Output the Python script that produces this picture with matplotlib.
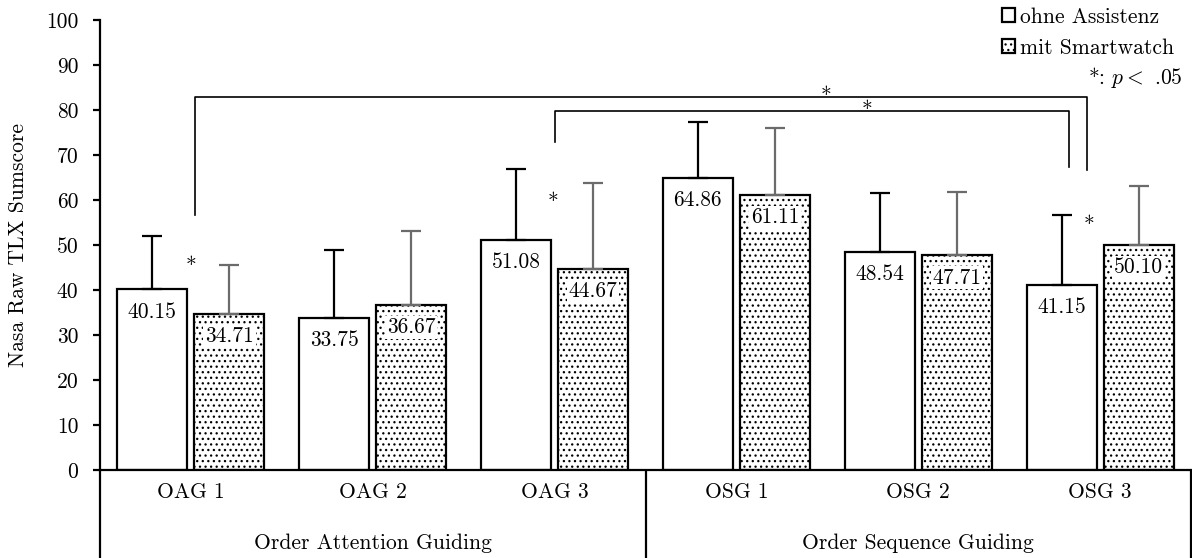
import matplotlib
matplotlib.use("Agg")
import matplotlib.pyplot as plt
from matplotlib.patches import Patch
import matplotlib.transforms as mtransforms

plt.rcParams["font.family"] = ["cmr10", "DejaVu Serif"]
plt.rcParams["mathtext.fontset"] = "cm"
plt.rcParams["axes.unicode_minus"] = False
plt.rcParams["hatch.linewidth"] = 0.9

categories = ["OAG 1", "OAG 2", "OAG 3", "OSG 1", "OSG 2", "OSG 3"]
groups = ["Order Attention Guiding", "Order Sequence Guiding"]
ohne = [40.15, 33.75, 51.08, 64.86, 48.54, 41.15]
ohne_sd = [11.85, 15.25, 15.85, 12.45, 13.05, 15.6]
mit = [34.71, 36.67, 44.67, 61.11, 47.71, 50.10]
mit_sd = [10.8, 16.55, 19.05, 14.9, 14.15, 13.1]
legend_labels = ["ohne Assistenz", "mit Smartwatch"]
y_ticks = list(range(0, 101, 10))

FS = 15.5

fig = plt.figure(figsize=(11.92, 5.58), dpi=100)
ax = fig.add_axes([100 / 1192, 88 / 558, 1091 / 1192, 450 / 558])

x = list(range(len(categories)))
w = 0.385
off = 0.212
xw = [i - off for i in x]
xm = [i + off for i in x]

ax.bar(xw, ohne, width=w, color="white", edgecolor="black", linewidth=1.6, zorder=2)
ax.bar(xm, mit, width=w, color="white", edgecolor="black", linewidth=1.6,
       hatch="...", zorder=2)
ax.errorbar(xw, ohne, yerr=[[0] * 6, ohne_sd], fmt="none", ecolor="black",
            elinewidth=1.6, capsize=7, capthick=1.6, zorder=3)
ax.errorbar(xm, mit, yerr=[[0] * 6, mit_sd], fmt="none", ecolor="#6b6b6b",
            elinewidth=1.6, capsize=7, capthick=1.6, zorder=3)

for xi, v in zip(xw, ohne):
    ax.text(xi, v - 5, f"{v:.2f}", ha="center", va="center", fontsize=FS, zorder=4)
for xi, v in zip(xm, mit):
    ax.text(xi, v - 5, f"{v:.2f}", ha="center", va="center", fontsize=FS, zorder=4,
            bbox=dict(boxstyle="square,pad=0.08", fc="white", ec="none"))

ax.set_xlim(-0.5, 5.5)
ax.set_ylim(0, 100)
ax.set_yticks(y_ticks)
ax.tick_params(axis="y", labelsize=FS, width=1.6, length=5, pad=10.5, direction="out")
ax.set_xticks([])
ax.set_ylabel("Nasa Raw TLX Sumscore", fontsize=FS)
ax.yaxis.set_label_coords(-0.066, 0.5)
for s in ["top", "right"]:
    ax.spines[s].set_visible(False)
ax.spines["left"].set_linewidth(1.6)
ax.spines["bottom"].set_linewidth(1.6)

# two-level category axis
trans = mtransforms.blended_transform_factory(ax.transData, ax.transAxes)
for xi, c in zip(x, categories):
    ax.text(xi, -0.05, c, transform=trans, ha="center", va="center", fontsize=FS)
ax.text(1, -0.163, groups[0], transform=trans, ha="center", va="center", fontsize=FS)
ax.text(4, -0.163, groups[1], transform=trans, ha="center", va="center", fontsize=FS)
for xv in [-0.5, 2.5, 5.5]:
    ax.plot([xv, xv], [0, -0.25], transform=trans, color="black", lw=1.6,
            clip_on=False, solid_capstyle="butt")

# significance brackets
br_lw = 1.2
ax.plot([0.02, 0.02, 4.93, 4.93], [56.7, 82.8, 82.8, 66.7], color="black", lw=br_lw)
ax.plot([2.0, 2.0, 4.83, 4.83], [72.9, 79.8, 79.8, 67.4], color="black", lw=br_lw)
ax.text(3.49, 83.0, "*", ha="center", va="center", fontsize=FS)
ax.text(3.72, 79.9, "*", ha="center", va="center", fontsize=FS)
ax.text(0.0, 45.2, "*", ha="center", va="center", fontsize=FS)
ax.text(1.99, 59.5, "*", ha="center", va="center", fontsize=FS)
ax.text(4.94, 54.5, "*", ha="center", va="center", fontsize=FS)

handles = [Patch(facecolor="white", edgecolor="black", linewidth=1.6),
           Patch(facecolor="white", edgecolor="black", linewidth=1.6, hatch="...")]
fig.legend(handles, legend_labels, loc="upper left",
           bbox_to_anchor=(1002 / 1192, 1 - 7 / 558), frameon=False, fontsize=FS,
           handlelength=0.6, handleheight=0.6, handletextpad=0.25, labelspacing=0.55,
           borderaxespad=0, borderpad=0)
fig.text(1183 / 1192, 1 - 78 / 558, "*: $p <$ .05", ha="right", va="center", fontsize=FS)

fig.savefig("out.png", dpi=100)
